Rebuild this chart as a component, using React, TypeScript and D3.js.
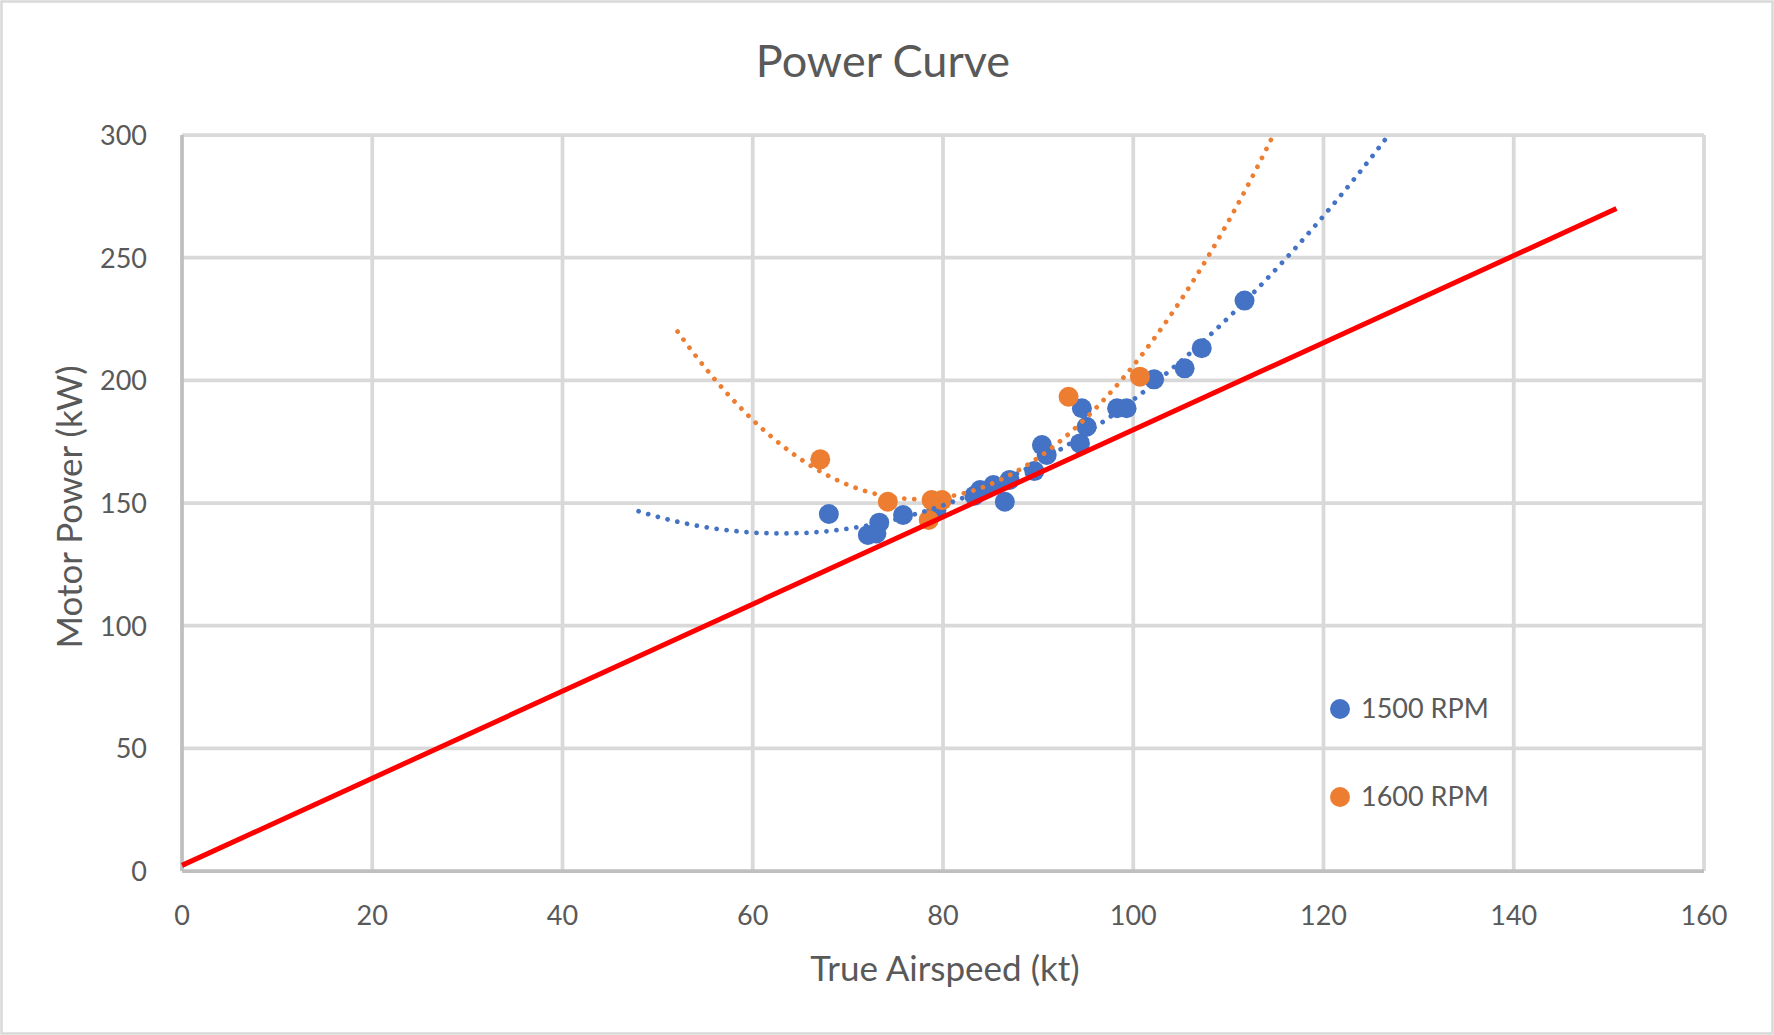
import React from 'react';
import * as d3 from 'd3';

// 1500 RPM measurements
const rpm1500Speed = [68.0, 72.1, 73.0, 73.3, 75.8, 79.3, 83.3, 83.9, 85.3, 86.5, 87.0, 89.6, 90.4, 90.9, 94.4, 94.6, 95.1, 98.3, 99.3, 102.2, 105.4, 107.2, 111.7];
const rpm1500Power = [145.5, 137.0, 137.6, 142.0, 145.1, 147.0, 153.0, 155.3, 157.3, 150.5, 159.4, 163.0, 173.6, 169.6, 174.3, 188.6, 181.1, 188.6, 188.6, 200.4, 204.9, 213.1, 232.5];

// 1600 RPM measurements
const rpm1600Speed = [67.1, 74.2, 78.5, 78.8, 79.9, 93.2, 100.7];
const rpm1600Power = [167.8, 150.5, 143.1, 151.2, 151.2, 193.3, 201.5];

// reference line (red)
const refSpeed = [0, 150.8];
const refPower = [2.3, 270];

const xTicks = [0, 20, 40, 60, 80, 100, 120, 140, 160];
const yTicks = [0, 50, 100, 150, 200, 250, 300];

const W = 1774;
const H = 1035;
const margin = { left: 182, right: 1704, top: 135, bottom: 871 };
const FONT = 'Lato, "Open Sans", sans-serif';
const TXT = '#595959';

// least squares 2nd order polynomial, like an Excel trendline
function polyFit(xs: number[], ys: number[]) {
  const n = xs.length;
  let s1 = 0, s2 = 0, s3 = 0, s4 = 0, t0 = 0, t1 = 0, t2 = 0;
  for (let i = 0; i < n; i++) {
    const x = xs[i], y = ys[i];
    s1 += x; s2 += x * x; s3 += x * x * x; s4 += x * x * x * x;
    t0 += y; t1 += x * y; t2 += x * x * y;
  }
  // solve 3x3 normal equations
  const m = [
    [n, s1, s2, t0],
    [s1, s2, s3, t1],
    [s2, s3, s4, t2],
  ];
  for (let c = 0; c < 3; c++) {
    for (let r = c + 1; r < 3; r++) {
      const f = m[r][c] / m[c][c];
      for (let k = c; k < 4; k++) m[r][k] -= f * m[c][k];
    }
  }
  const coef = [0, 0, 0];
  for (let r = 2; r >= 0; r--) {
    let s = m[r][3];
    for (let k = r + 1; k < 3; k++) s -= m[r][k] * coef[k];
    coef[r] = s / m[r][r];
  }
  return (x: number) => coef[0] + coef[1] * x + coef[2] * x * x;
}

function App() {
  const x = d3.scaleLinear().domain([0, 160]).range([margin.left, margin.right]);
  const y = d3.scaleLinear().domain([0, 300]).range([margin.bottom, margin.top]);

  const trend = (xs: number[], ys: number[], back: number, fwd: number) => {
    const f = polyFit(xs, ys);
    const x0 = d3.min(xs)! - back;
    const x1 = d3.max(xs)! + fwd;
    const pts = d3.range(x0, x1, 0.25).map((v) => [v, f(v)] as [number, number]);
    return d3.line<[number, number]>().x((d) => x(d[0])).y((d) => y(d[1]))(pts) || '';
  };

  const blueTrend = trend(rpm1500Speed, rpm1500Power, 20, 30);
  const orangeTrend = trend(rpm1600Speed, rpm1600Power, 15, 30);
  const refLine = d3.line<number>().x((d) => x(d)).y((d, i) => y(refPower[i]))(refSpeed) || '';

  return (
    <>
      <style>{'body{margin:0}'}</style>
      <svg width={W} height={H} style={{ display: 'block', background: '#fff' }}>
        <defs>
          <clipPath id="plot">
            <rect x={margin.left} y={margin.top} width={margin.right - margin.left} height={margin.bottom - margin.top} />
          </clipPath>
        </defs>
        <rect x={1.5} y={1.5} width={W - 3} height={H - 3} fill="#fff" stroke="#d9d9d9" strokeWidth={2.5} />

        <text x={883} y={77} textAnchor="middle" fontFamily={FONT} fontSize={45} fill={TXT}>Power Curve</text>

        {/* grid */}
        {yTicks.filter((t) => t > 0).map((t) => (
          <line key={'gy' + t} x1={margin.left} x2={margin.right} y1={y(t)} y2={y(t)} stroke="#d9d9d9" strokeWidth={3.75} />
        ))}
        {xTicks.filter((t) => t > 0).map((t) => (
          <line key={'gx' + t} x1={x(t)} x2={x(t)} y1={margin.top} y2={margin.bottom} stroke="#d9d9d9" strokeWidth={3.75} />
        ))}
        <line x1={margin.left} x2={margin.right} y1={y(0)} y2={y(0)} stroke="#bfbfbf" strokeWidth={3.75} />
        <line x1={x(0)} x2={x(0)} y1={margin.top} y2={margin.bottom} stroke="#bfbfbf" strokeWidth={3.75} />

        {/* tick labels */}
        {yTicks.map((t) => (
          <text key={'ty' + t} x={147} y={y(t) + 10} textAnchor="end" fontFamily={FONT} fontSize={27} fill={TXT}>{t}</text>
        ))}
        {xTicks.map((t) => (
          <text key={'tx' + t} x={x(t)} y={925} textAnchor="middle" fontFamily={FONT} fontSize={27} fill={TXT}>{t}</text>
        ))}

        <text x={945} y={981} textAnchor="middle" fontFamily={FONT} fontSize={35} fill={TXT}>True Airspeed (kt)</text>
        <text transform={`translate(82,507) rotate(-90)`} textAnchor="middle" fontFamily={FONT} fontSize={35} fill={TXT}>Motor Power (kW)</text>

        {/* markers */}
        {rpm1500Speed.map((v, i) => (
          <circle key={'b' + i} cx={x(v)} cy={y(rpm1500Power[i])} r={10} fill="#4472c4" />
        ))}
        {rpm1600Speed.map((v, i) => (
          <circle key={'o' + i} cx={x(v)} cy={y(rpm1600Power[i])} r={10} fill="#ed7d31" />
        ))}

        <path d={refLine} fill="none" stroke="#ff0000" strokeWidth={5} />

        <g clipPath="url(#plot)">
          <path d={blueTrend} fill="none" stroke="#4472c4" strokeWidth={4.75} strokeDasharray="0.01 10" strokeLinecap="round" />
          <path d={orangeTrend} fill="none" stroke="#ed7d31" strokeWidth={4.75} strokeDasharray="0.01 10" strokeLinecap="round" />
        </g>

        {/* legend */}
        <circle cx={1340} cy={709} r={10} fill="#4472c4" />
        <text x={1361} y={718} fontFamily={FONT} fontSize={27} fill={TXT}>1500 RPM</text>
        <circle cx={1340} cy={797} r={10} fill="#ed7d31" />
        <text x={1361} y={806} fontFamily={FONT} fontSize={27} fill={TXT}>1600 RPM</text>
      </svg>
    </>
  );
}

export default App;
